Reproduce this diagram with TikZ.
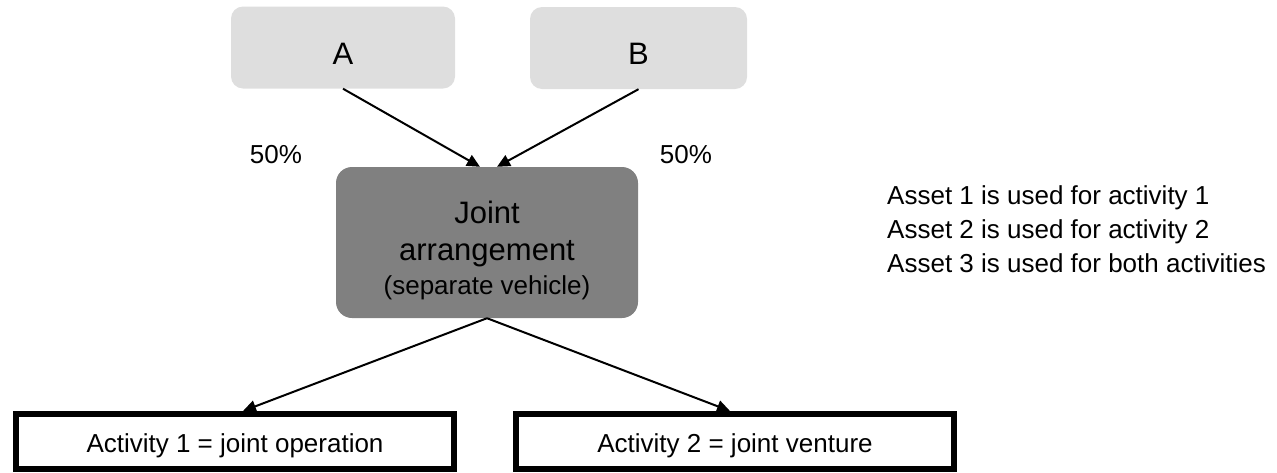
\documentclass[tikz,border=0pt]{standalone}
\usepackage{fontspec}
\setmainfont{Liberation Sans}
\usetikzlibrary{arrows.meta}
\definecolor{lightbox}{HTML}{DEDEDE}
\definecolor{darkbox}{HTML}{808080}
\begin{document}
\begin{tikzpicture}[x=1pt,y=-1pt,
  topbox/.style={fill=lightbox, rounded corners=12pt, inner sep=0pt,
    minimum height=82pt, font=\fontsize{31}{37}\selectfont,
    text height=33pt, text depth=0pt},
  jbox/.style={fill=darkbox, rounded corners=16pt, inner sep=0pt,
    minimum width=302pt, minimum height=151pt},
  jtext/.style={anchor=base, inner sep=0pt},
  actbox/.style={draw=black, line width=6pt, fill=white, inner sep=0pt,
    minimum width=438pt, minimum height=55pt, font=\fontsize{26}{31}\selectfont,
    text height=24pt, text depth=3pt},
  pct/.style={font=\fontsize{26}{31}\selectfont, inner sep=0pt},
  note/.style={anchor=base west, font=\fontsize{26}{31}\selectfont, inner sep=0pt},
  conn/.style={line width=2pt, -{Triangle[length=13pt,width=12pt]}}]
\useasboundingbox (0,0) rectangle (1277,472);

\node[topbox, minimum width=224pt] (A) at (343,47.5) {A};
\node[topbox, minimum width=217pt] (B) at (638.5,48) {B};

\node[jbox] (J) at (487,242.5) {};
\node[jtext, font=\fontsize{31}{37}\selectfont] (J1) at (487,223) {Joint};
\node[jtext, font=\fontsize{31}{37}\selectfont] (J2) at (487,260) {arrangement};
\node[jtext, font=\fontsize{26}{31}\selectfont] (J3) at (487,294) {(separate vehicle)};

\node[pct] (PA) at (276,155) {50\%};
\node[pct] (PB) at (686,155) {50\%};

\node[actbox] (L) at (235,441.5) {Activity 1 = joint operation};
\node[actbox] (R) at (735,441.5) {Activity 2 = joint venture};

\node[note] (N1) at (887,204) {Asset 1 is used for activity 1};
\node[note] (N2) at (887,238) {Asset 2 is used for activity 2};
\node[note] (N3) at (887,272) {Asset 3 is used for both activities};

\draw[conn] (A.south) -- ([xshift=-7pt]J.north);
\draw[conn] (B.south) -- ([xshift=10pt]J.north);
\draw[conn] (J.south) -- ([xshift=8pt]L.north);
\draw[conn] (J.south) -- ([xshift=-5pt]R.north);
\end{tikzpicture}
\end{document}
